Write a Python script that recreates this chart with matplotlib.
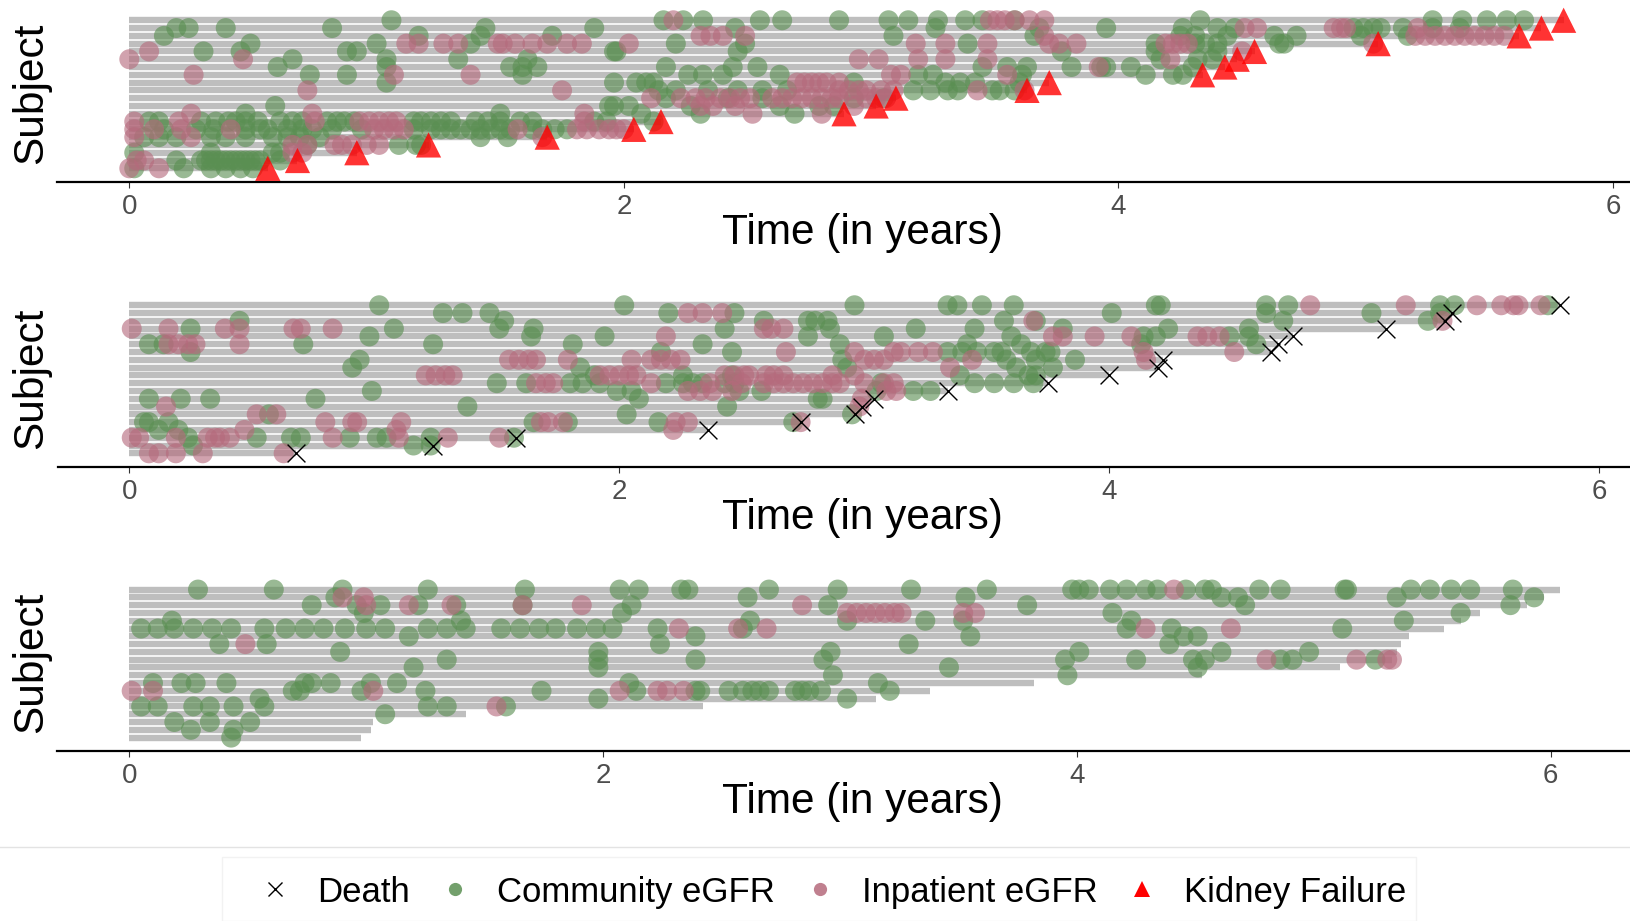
import matplotlib.pyplot as plt
from matplotlib.lines import Line2D
from matplotlib.patches import Rectangle

plt.rcParams['font.family'] = ['Liberation Sans', 'DejaVu Sans']

# ---- panel 1: kidney failure (rows listed top to bottom) ----
kf_end = [5.80, 5.71, 5.62, 5.05, 4.55, 4.48, 4.43, 4.34, 3.72, 3.63,
          3.10, 3.02, 2.89, 2.15, 2.04, 1.69, 1.21, 0.92, 0.68, 0.56]
kf_comm = [
    [1.06, 2.16, 2.24, 2.32, 2.55, 2.64, 2.87, 3.07, 3.15, 3.27, 3.38, 3.45, 3.58, 4.33, 5.27, 5.39, 5.49, 5.57, 5.64],
    [0.19, 0.24, 0.39, 0.82, 1.44, 1.88, 2.45, 3.26, 3.68, 3.95, 4.26, 4.40, 4.47, 4.95, 4.99, 5.03, 5.06, 5.15, 5.27, 5.38],
    [0.14, 1.17, 1.42, 1.71, 3.09, 3.66, 4.25, 4.31, 4.44, 4.63, 4.72, 4.98, 5.17],
    [0.49, 1.00, 1.38, 2.21, 2.49, 3.39, 4.15, 4.31, 4.35, 4.40, 4.65, 4.67],
    [0.30, 0.45, 0.88, 0.92, 1.96, 1.97, 2.46, 3.77, 4.15, 4.40],
    [0.66, 1.04, 1.33, 1.61, 4.17, 4.32, 4.38],
    [0.60, 1.04, 1.54, 1.59, 1.65, 2.17, 2.44, 2.54, 3.45, 3.55, 3.63, 3.81, 3.93, 3.95, 4.05, 4.30],
    [0.73, 0.88, 1.59, 2.26, 2.32, 2.40, 2.63, 3.19, 3.25, 3.61, 4.11, 4.22, 4.26],
    [1.04, 1.96, 2.05, 2.09, 2.12, 2.93, 3.30, 3.36, 3.42, 3.60],
    [2.14, 2.21, 2.34, 2.46, 2.56, 2.66, 3.17, 3.24, 3.31, 3.35, 3.49, 3.52, 3.58],
    [2.17, 2.42, 2.56, 2.93, 3.05],
    [0.59, 1.94, 1.96, 2.02, 2.27, 2.63, 2.79, 2.85],
    [0.47, 1.50, 2.07, 2.31, 2.69],
    [0.08, 0.12, 0.29, 0.35, 0.40, 0.43, 0.47, 0.52, 0.61, 0.66, 0.70, 0.80, 0.84, 0.87, 0.91,
     1.15, 1.18, 1.22, 1.26, 1.30, 1.40, 1.45, 1.50, 1.58, 1.63, 1.88, 1.93, 2.12],
    [0.14, 0.27, 0.34, 0.47, 0.53, 0.56, 0.64, 0.70, 0.74, 0.82, 0.94, 1.15, 1.22, 1.26, 1.30,
     1.34, 1.38, 1.42, 1.46, 1.50, 1.54, 1.63, 1.67, 1.72, 1.77],
    [0.06, 0.12, 0.19, 0.33, 0.39, 0.47, 0.58, 0.64, 0.69, 0.77, 1.42, 1.53],
    [0.72, 1.09, 1.16, 1.18],
    [0.02, 0.33, 0.58, 0.61],
    [0.19, 0.29, 0.31, 0.33, 0.35, 0.37, 0.39, 0.41, 0.43, 0.45, 0.47, 0.49, 0.51, 0.53, 0.61],
    [0.02, 0.22, 0.33, 0.39, 0.45, 0.50],
]
kf_inp = [
    [2.20, 3.48, 3.51, 3.54, 3.58, 3.64, 3.70],
    [4.51, 4.56, 4.87, 4.90, 4.92, 5.21],
    [2.31, 2.35, 2.40, 2.49, 3.70, 5.20, 5.24, 5.28, 5.32, 5.36, 5.40, 5.44, 5.48, 5.52, 5.56],
    [1.12, 1.17, 1.27, 1.33, 1.49, 1.51, 1.56, 1.63, 1.69, 1.77, 1.83, 2.02, 3.18, 3.30, 3.47,
     3.72, 3.76, 3.83, 4.19, 4.22, 4.25, 4.28, 5.03],
    [0.08, 4.50],
    [0.00, 0.46, 2.95, 3.03, 3.19, 3.30, 3.47, 4.21],
    [3.92],
    [0.26, 1.07, 1.38, 3.08, 3.12, 3.55],
    [2.70, 2.73, 2.76, 2.79, 2.82, 2.87],
    [0.72, 1.75, 2.87, 2.91, 2.95, 2.98, 3.04, 3.09, 3.43, 3.62],
    [2.11, 2.23, 2.29, 2.33, 2.39, 2.43, 2.47, 2.51, 2.60, 2.64, 2.68, 2.72, 2.76, 2.80, 2.84,
     2.87, 2.98, 3.02, 3.06],
    [2.31, 2.36, 2.45, 2.93],
    [0.25, 0.74, 1.84, 2.52, 2.80],
    [0.02, 0.20, 0.75, 0.93, 0.97, 1.01, 1.05, 1.08, 1.84],
    [0.02, 0.10, 0.21, 0.41, 0.99, 1.03, 1.07, 1.11, 1.57, 1.81, 1.85, 1.90, 1.94, 1.97, 2.00],
    [0.02, 0.25, 1.67],
    [0.66, 0.72, 0.83, 0.86, 0.90, 0.96, 1.01],
    [0.66, 0.70],
    [0.03, 0.06],
    [0.00, 0.12],
]

# ---- panel 2: death ----
dt_end = [5.84, 5.40, 5.37, 5.13, 4.75, 4.69, 4.66, 4.22, 4.20, 4.00,
          3.75, 3.34, 3.04, 2.99, 2.96, 2.74, 2.36, 1.58, 1.24, 0.68]
dt_comm = [
    [1.02, 2.02, 2.96, 3.34, 3.38, 3.48, 3.61, 4.19, 4.21, 4.64, 4.73, 5.35, 5.41, 5.79],
    [1.28, 1.36, 1.47, 2.20, 2.47, 4.01, 4.64, 5.07, 5.35],
    [0.45, 1.53, 2.59, 2.77, 2.80, 2.85, 3.57, 3.70, 4.71, 5.30],
    [0.25, 1.08, 1.51, 1.65, 2.43, 2.86, 3.21, 3.45, 3.81, 4.24, 4.57],
    [0.98, 1.64, 1.94, 2.77, 3.08, 3.60, 4.14, 4.19, 4.49, 4.57],
    [0.08, 0.14, 0.71, 1.24, 1.81, 2.34, 2.90, 3.42, 3.64, 4.13, 4.60],
    [0.25, 2.17, 2.46, 3.34, 3.40, 3.46, 3.53, 3.56, 3.68, 3.74, 3.76],
    [0.94, 2.91, 3.58, 3.70, 3.86],
    [0.91, 1.84, 2.93, 3.62, 3.77],
    [1.90, 2.26, 2.46, 3.39, 3.67, 3.70],
    [1.50, 1.62, 1.80, 1.85, 1.92, 2.19, 2.26, 2.30, 2.34, 2.43, 2.47, 3.07, 3.45, 3.53, 3.61, 3.69],
    [0.99, 1.99, 2.05, 2.49, 2.58, 3.05, 3.20, 3.27],
    [0.08, 0.21, 0.33, 0.76, 2.08, 2.81, 2.83],
    [1.38, 2.44],
    [0.57, 2.03, 2.95],
    [0.06, 0.08, 0.16, 1.65, 1.79, 2.16, 2.71],
    [0.12, 0.20],
    [0.24, 0.52, 0.66, 0.70, 0.90, 1.01, 1.05, 1.23, 1.57],
    [0.26, 1.16, 1.23],
    [],
]
dt_inp = [
    [4.82, 5.21, 5.50, 5.60, 5.65, 5.67, 5.76],
    [2.28, 2.34, 2.42],
    [3.69, 5.36],
    [0.01, 0.16, 0.39, 0.45, 0.67, 0.70, 0.83, 2.59, 2.62, 2.67],
    [2.19, 3.77, 3.81, 3.94, 4.09, 4.36, 4.40, 4.45],
    [0.16, 0.20, 0.24, 0.27, 0.45],
    [2.68, 2.96, 3.12, 3.15, 3.22, 3.28, 4.14, 4.51],
    [1.55, 1.59, 1.63, 1.66, 1.79, 2.05, 2.13, 2.17, 2.21, 2.25, 3.00, 3.04, 3.08, 3.44, 4.15],
    [3.35],
    [1.21, 1.25, 1.29, 1.32, 1.92, 1.96, 2.00, 2.04, 2.07, 2.43, 2.47, 2.51, 2.53, 2.60, 2.63,
     2.67, 2.87, 2.96],
    [1.66, 1.70, 1.73, 2.13, 2.37, 2.50, 2.59, 2.63, 2.67, 2.71, 2.75, 2.79, 2.83, 2.87, 2.90,
     3.00, 3.08, 3.12],
    [2.28, 2.33, 2.38, 2.46, 3.09, 3.13],
    [2.99],
    [0.15, 2.98],
    [0.52, 0.60],
    [0.80, 0.91, 0.93, 1.11, 1.68, 1.71, 1.77, 2.23, 2.28, 2.74],
    [0.47, 1.09, 2.22],
    [0.01, 0.04, 0.19, 0.32, 0.35, 0.37, 0.41, 0.83, 1.10, 1.30, 1.51],
    [],
    [0.08, 0.12, 0.19, 0.30, 0.63],
]

# ---- panel 3: censored ----
cs_end = [6.04, 5.97, 5.90, 5.70, 5.62, 5.55, 5.40, 5.37, 5.35, 5.33,
          5.11, 4.53, 3.82, 3.38, 3.15, 2.42, 1.42, 1.03, 1.02, 0.98]
cs_comm = [
    [0.29, 0.61, 0.90, 1.26, 1.67, 2.07, 2.15, 2.33, 2.36, 2.70, 2.99, 3.30, 3.62, 3.98, 4.01,
     4.05, 4.14, 4.21, 4.29, 4.34, 4.46, 4.54, 4.57, 4.77, 4.86, 5.13, 5.14, 5.41, 5.49, 5.58,
     5.66, 5.84],
    [0.87, 2.61, 3.53, 4.61, 4.68, 5.35, 5.93],
    [0.77, 0.96, 1.06, 1.22, 1.38, 1.66, 2.12, 2.95, 3.79, 4.71, 5.83],
    [0.99, 2.08, 4.15, 5.62],
    [0.18, 1.40, 2.62, 3.03, 3.36, 3.52, 4.23, 5.38],
    [0.05, 0.12, 0.19, 0.27, 0.35, 0.43, 0.57, 0.66, 0.74, 0.82, 0.91, 1.00, 1.08, 1.26, 1.34,
     1.42, 1.57, 1.65, 1.73, 1.80, 1.89, 1.97, 2.04, 2.23, 2.59, 4.21, 4.40, 5.12],
    [1.18, 2.39, 3.55, 4.45, 4.51],
    [0.38, 0.58, 2.24, 3.29, 4.39],
    [0.89, 1.98, 2.96, 4.01, 4.61, 4.98],
    [1.34, 1.98, 2.39, 2.93, 3.95, 4.25, 4.49, 4.54, 4.86, 4.91, 5.26],
    [1.20, 1.98, 3.46, 4.51],
    [2.97, 3.96],
    [0.10, 0.22, 0.28, 0.41, 0.74, 0.77, 0.85, 1.02, 1.13, 2.11, 3.16],
    [0.69, 0.72, 0.98, 1.25, 1.74, 2.14, 2.39, 2.41, 2.53, 2.59, 2.63, 2.66, 2.70, 2.81, 2.84,
     2.87, 2.92, 3.21],
    [0.55, 1.98, 3.03],
    [0.05, 0.12, 0.27, 0.34, 0.44, 0.57, 1.26, 1.34, 1.59],
    [1.08],
    [0.19, 0.34, 0.51],
    [0.26, 0.44],
    [0.43],
]
cs_inp = [
    [4.41],
    [0.90, 0.99],
    [1.00, 1.18, 1.36, 1.66, 1.91, 2.84],
    [3.03, 3.07, 3.11, 3.15, 3.19, 3.23, 3.26, 3.52, 3.57],
    [],
    [2.32, 2.57, 2.69, 4.29, 4.65],
    [], [0.49], [], [4.80, 5.18, 5.31, 5.33],
    [], [], [],
    [0.01, 0.10, 1.03, 2.07, 2.23, 2.27, 2.34],
    [], [1.55], [], [], [], [],
]

legend_labels = ['Death', 'Community eGFR', 'Inpatient eGFR', 'Kidney Failure']

# ---- styling / layout (pixels of a 1630x921 canvas) ----
W, H = 1630, 921
comm_col = '#5A8F52'
inp_col = '#B56A7C'
bar_col = '#BEBEBE'
pt_alpha = 0.62

fig = plt.figure(figsize=(W / 100, H / 100), dpi=100)

ax_left, ax_width, ax_height = 57.5, 1609.5, 176.7
zero_px = 129.3

panels = [
    (kf_end, kf_comm, kf_inp, 'kf', 181.7, 247.3),
    (dt_end, dt_comm, dt_inp, 'death', 466.7, 245.0),
    (cs_end, cs_comm, cs_inp, None, 751.0, 236.9),
]

for ends, comm, inp, event, axis_y, ppy in panels:
    ax = fig.add_axes([ax_left / W, 1 - axis_y / H, ax_width / W, ax_height / H])
    n = len(ends)
    ys = [n - i for i in range(n)]

    ax.hlines(ys, 0, ends, color=bar_col, lw=4.6, capstyle='butt', zorder=1)

    cx, cy = [], []
    for i, row in enumerate(comm):
        cx += row
        cy += [ys[i]] * len(row)
    ix, iy = [], []
    for i, row in enumerate(inp):
        ix += row
        iy += [ys[i]] * len(row)
    ax.scatter(cx, cy, s=207, color=comm_col, alpha=pt_alpha, edgecolors='none', zorder=2)
    ax.scatter(ix, iy, s=207, color=inp_col, alpha=pt_alpha, edgecolors='none', zorder=3)

    if event == 'kf':
        ax.scatter(ends, ys, marker='^', s=330, color='#FF0000', alpha=0.8,
                   edgecolors='none', zorder=4)
    elif event == 'death':
        ax.scatter(ends, ys, marker='x', s=165, color='black', linewidths=1.0, zorder=4)

    x0 = (ax_left - zero_px) / ppy
    ax.set_xlim(x0, x0 + ax_width / ppy)
    ax.set_ylim(-0.72, 21.96)

    for side in ['top', 'left', 'right']:
        ax.spines[side].set_visible(False)
    ax.spines['bottom'].set_linewidth(1.6)
    ax.spines['bottom'].set_color('black')
    ax.set_yticks([])
    ax.set_xticks([0, 2, 4, 6])
    ax.tick_params(axis='x', labelsize=20, labelcolor='#4D4D4D', color='#333333',
                   length=4.3, width=0.8, pad=4.5)
    ax.set_xlabel('Time (in years)', fontsize=30.5)
    ax.xaxis.set_label_coords(0.5, -31 / ax_height)
    ax.patch.set_visible(False)

    fig.text(31 / W, 1 - (axis_y - ax_height / 2) / H, 'Subject', rotation=90,
             ha='center', va='center', fontsize=30.5)

# separator and legend area
fig.add_artist(Line2D([0, 1], [1 - 847 / H] * 2, transform=fig.transFigure,
                      color='#E3E3E3', lw=1))
fig.add_artist(Rectangle((222 / W, 0), (1416 - 222) / W, (921 - 857) / H,
                         transform=fig.transFigure, fill=False,
                         edgecolor='#F2F2F2', lw=1))

handles = [
    Line2D([], [], marker='x', ls='none', color='black', markersize=10, mew=1.0),
    Line2D([], [], marker='o', ls='none', color=comm_col, alpha=0.85, markersize=9.5, mew=0),
    Line2D([], [], marker='o', ls='none', color=inp_col, alpha=0.85, markersize=9.5, mew=0),
    Line2D([], [], marker='^', ls='none', color='#FF0000', markersize=12, mew=0),
]
fig.legend(handles, legend_labels, ncol=4, loc='center',
           bbox_to_anchor=(832 / W, 1 - 892 / H), frameon=False, fontsize=25,
           handlelength=1.0, handletextpad=0.71, columnspacing=0.80)

fig.savefig('out.png', dpi=100)
